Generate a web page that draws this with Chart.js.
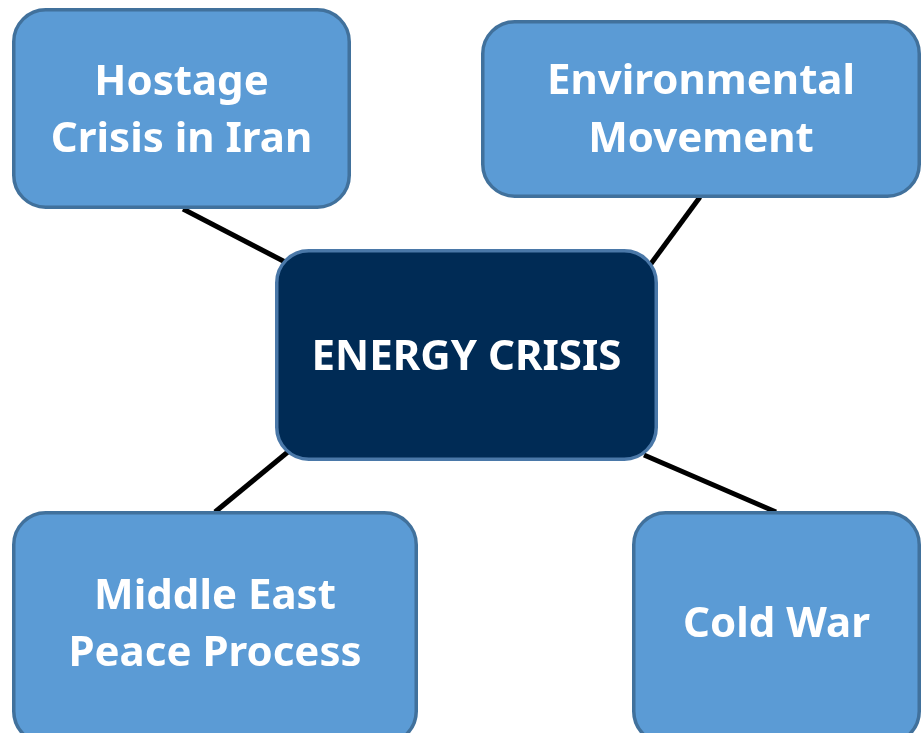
<!DOCTYPE html>
<html>
<head>
<meta charset="utf-8">
<script src="https://cdn.jsdelivr.net/npm/chart.js@4.4.1/dist/chart.umd.min.js"></script>
<style>
  html,body{margin:0;padding:0;background:#fff;}
  #wrap{width:922px;height:733px;}
</style>
</head>
<body>
<div id="wrap"><canvas id="map"></canvas></div>
<script>
"use strict";

// Node texts (one entry per line), and which node is the hub.
const NODE_TEXT = [
  ['Hostage', 'Crisis in Iran'],
  ['Environmental', 'Movement'],
  ['ENERGY CRISIS'],
  ['Middle East', 'Peace Process'],
  ['Cold War'],
];
const HUB = 2;

// Layout (in the 922x733 space): box left/top/right/bottom.
const BOX_L = [12, 481, 275, 12, 632];
const BOX_T = [8, 20, 249, 511, 511];
const BOX_R = [351, 921, 658, 418, 921];
const BOX_B = [209, 198, 461, 745, 745];
const TEXT_Y = [[81, 138], [80, 138], [356], [595, 652], [623]];

// Connectors: hub <-> node, endpoint pairs.
const EDGE_FROM = [[183, 209], [700, 197], [215, 512], [776, 512]];
const EDGE_TO   = [[289, 264], [650, 265], [289, 451], [644, 455]];

const C = {fill:'#5b9bd5', border:'#41719c', hub:'#002b55', hubBorder:'#4a78a8', ink:'#ffffff', line:'#000000'};

const boxes = {
  id: 'boxes',
  afterDatasetsDraw(chart) {
    const {ctx, scales:{x, y}} = chart;
    NODE_TEXT.forEach((lines, i) => {
      const l = x.getPixelForValue(BOX_L[i]), r = x.getPixelForValue(BOX_R[i]);
      const t = y.getPixelForValue(BOX_T[i]), b = y.getPixelForValue(BOX_B[i]);
      const bw = 3.5;
      ctx.save();
      ctx.beginPath();
      ctx.roundRect(l + bw/2, t + bw/2, r - l - bw, b - t - bw, 32);
      ctx.fillStyle = i === HUB ? C.hub : C.fill;
      ctx.fill();
      ctx.lineWidth = bw;
      ctx.strokeStyle = i === HUB ? C.hubBorder : C.border;
      ctx.stroke();
      ctx.fillStyle = C.ink;
      ctx.font = 'bold 42px "Noto Sans", Lato, sans-serif';
      ctx.textAlign = 'center';
      ctx.textBaseline = 'middle';
      const cx = (l + r) / 2;
      lines.forEach((s, k) => ctx.fillText(s, cx, y.getPixelForValue(TEXT_Y[i][k]) + 2));
      ctx.restore();
    });
  }
};

new Chart(document.getElementById('map'), {
  type: 'scatter',
  data: {
    datasets: EDGE_FROM.map((p, i) => ({
      data: [{x:p[0], y:p[1]}, {x:EDGE_TO[i][0], y:EDGE_TO[i][1]}],
      showLine: true, borderColor: C.line, borderWidth: 5, pointRadius: 0,
    })),
  },
  options: {
    responsive: true, maintainAspectRatio: false, animation: false,
    layout: {padding: 0},
    plugins: {legend:{display:false}, tooltip:{enabled:false}},
    scales: {
      x: {type:'linear', min:0, max:922, display:false},
      y: {type:'linear', min:0, max:733, reverse:true, display:false},
    },
  },
  plugins: [boxes],
});
</script>
</body>
</html>
